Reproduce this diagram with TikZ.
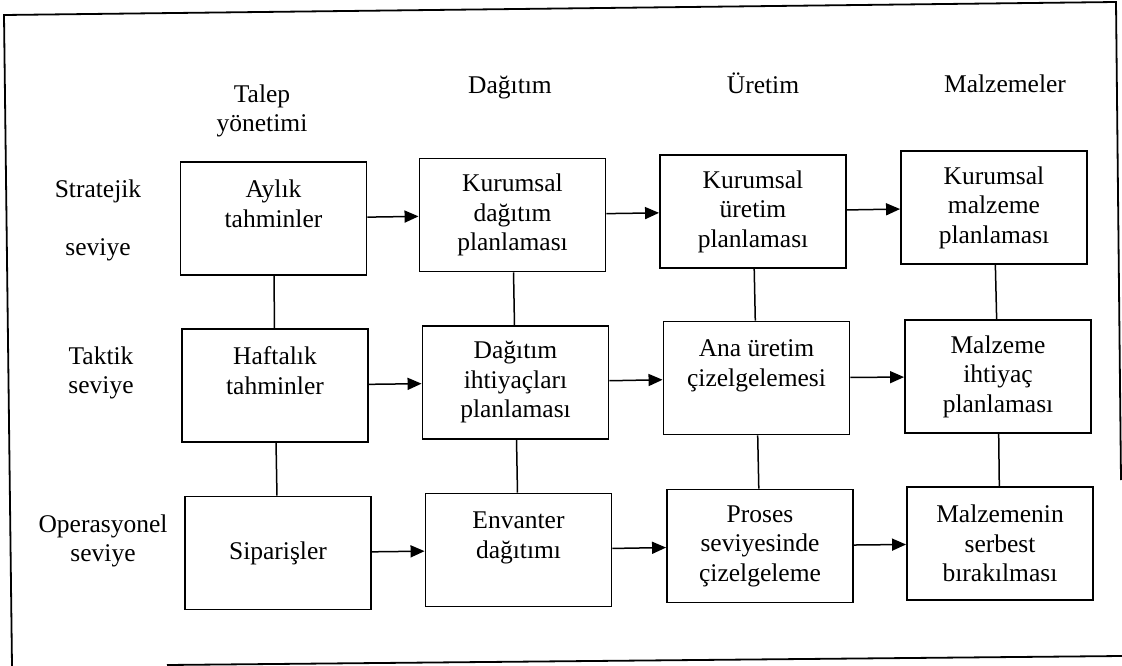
\documentclass[tikz,border=0pt]{standalone}
\usepackage{fontspec}
\setmainfont{Liberation Serif}
\usetikzlibrary{arrows.meta}
\begin{document}
\begin{tikzpicture}[x=1pt,y=-1pt,
  txt/.style={font=\fontsize{25.5}{29.5}\selectfont, inner sep=0pt, align=center},
  blk/.style={draw, line width=1.9pt, minimum width=186pt, minimum height=113pt, inner sep=0pt, align=center, font=\fontsize{25.5}{29.5}\selectfont},
  flow/.style={line width=1.5pt, -{Triangle[length=14pt,width=12pt]}},
  link/.style={line width=1.5pt},
  frame/.style={line width=1.8pt}]
\useasboundingbox (0,0) rectangle (1122,666);
% frame (scanned, slightly rotated, partly cut)
\coordinate (f1) at (4,15);
\coordinate (f2) at (12,666);
\coordinate (f3) at (1116,2);
\coordinate (f4) at (1121,480);
\coordinate (f5) at (167,665);
\coordinate (f6) at (1122,656);
\draw[frame] (f2) -- (f1) -- (f3) -- (f4);
\draw[frame] (f5) -- (f6);
% column headers
\node[txt] (h1) at (262,111) {Talep\\yönetimi};
\node[txt, anchor=base] (h2) at (510,94) {Dağıtım};
\node[txt, anchor=base] (h3) at (763,94) {Üretim};
\node[txt, anchor=base] (h4) at (1005,93) {Malzemeler};
% row labels
\node[txt] (r1) at (98,220) {Stratejik\\[28.5pt]seviye};
\node[txt] (r2) at (101,373) {Taktik\\seviye};
\node[txt] (r3) at (103,541) {Operasyonel\\seviye};
% row 1
\node[blk] (a)  at (273.5,218.5) {Aylık\\tahminler\\\mbox{}};
\node[blk] (kd) at (512.5,215) {Kurumsal\\dağıtım\\planlaması};
\node[blk] (ku) at (753,211.5) {Kurumsal\\üretim\\planlaması};
\node[blk] (km) at (994,207.5) {Kurumsal\\malzeme\\planlaması};
% row 2
\node[blk] (h)  at (275,385.5) {Haftalık\\tahminler\\\mbox{}};
\node[blk] (di) at (515.5,382.5) {Dağıtım\\ihtiyaçları\\planlaması};
\node[blk] (au) at (756.5,378) {Ana üretim\\çizelgelemesi\\\mbox{}};
\node[blk] (mi) at (998,376.5) {Malzeme\\ihtiyaç\\planlaması};
% row 3
\node[blk] (s)  at (278,553) {Siparişler};
\node[blk] (e)  at (518.5,550) {Envanter\\dağıtımı\\\mbox{}};
\node[blk] (p)  at (760,546) {Proses\\seviyesinde\\çizelgeleme};
\node[blk] (ms) at (1000,543.5) {Malzemenin\\serbest\\bırakılması};
% horizontal arrows
\draw[flow] (a) -- (kd);
\draw[flow] (kd) -- (ku);
\draw[flow] (ku) -- (km);
\draw[flow] (h) -- (di);
\draw[flow] (di) -- (au);
\draw[flow] (au) -- (mi);
\draw[flow] (s) -- (e);
\draw[flow] (e) -- (p);
\draw[flow] (p) -- (ms);
% vertical links
\draw[link] (a) -- (h);
\draw[link] (h) -- (s);
\draw[link] (kd) -- (di);
\draw[link] (di) -- (e);
\draw[link] (ku) -- (au);
\draw[link] (au) -- (p);
\draw[link] (km) -- (mi);
\draw[link] (mi) -- (ms);
\end{tikzpicture}
\end{document}
